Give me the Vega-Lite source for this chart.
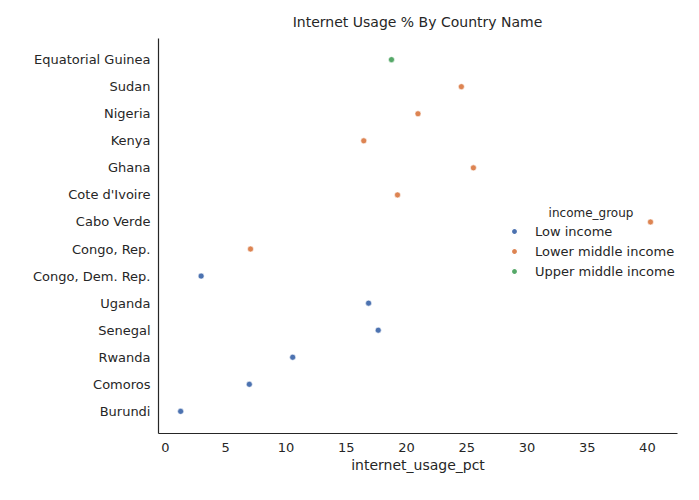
{
  "$schema": "https://vega.github.io/schema/vega-lite/v6.json",
  "autosize": "none",
  "padding": {"left": 158, "top": 38, "right": 22, "bottom": 67},
  "width": 519,
  "height": 395,
  "title": {"text": "Internet Usage % By Country Name", "fontSize": 14, "fontWeight": "normal", "font": "DejaVu Sans", "color": "#262626", "offset": 8},
  "data": {
    "values": [
      {"country_name": "Equatorial Guinea", "internet_usage_pct": 18.8, "income_group": "Upper middle income"},
      {"country_name": "Sudan", "internet_usage_pct": 24.6, "income_group": "Lower middle income"},
      {"country_name": "Nigeria", "internet_usage_pct": 21.0, "income_group": "Lower middle income"},
      {"country_name": "Kenya", "internet_usage_pct": 16.5, "income_group": "Lower middle income"},
      {"country_name": "Ghana", "internet_usage_pct": 25.6, "income_group": "Lower middle income"},
      {"country_name": "Cote d'Ivoire", "internet_usage_pct": 19.3, "income_group": "Lower middle income"},
      {"country_name": "Cabo Verde", "internet_usage_pct": 40.3, "income_group": "Lower middle income"},
      {"country_name": "Congo, Rep.", "internet_usage_pct": 7.1, "income_group": "Lower middle income"},
      {"country_name": "Congo, Dem. Rep.", "internet_usage_pct": 3.0, "income_group": "Low income"},
      {"country_name": "Uganda", "internet_usage_pct": 16.9, "income_group": "Low income"},
      {"country_name": "Senegal", "internet_usage_pct": 17.7, "income_group": "Low income"},
      {"country_name": "Rwanda", "internet_usage_pct": 10.6, "income_group": "Low income"},
      {"country_name": "Comoros", "internet_usage_pct": 7.0, "income_group": "Low income"},
      {"country_name": "Burundi", "internet_usage_pct": 1.3, "income_group": "Low income"}
    ]
  },
  "mark": {"type": "point", "filled": true, "size": 36, "opacity": 1, "stroke": "white", "strokeWidth": 0.6},
  "encoding": {
    "x": {
      "field": "internet_usage_pct", "type": "quantitative",
      "scale": {"domain": [-0.58, 42.5], "nice": false, "zero": false},
      "axis": {"values": [0, 5, 10, 15, 20, 25, 30, 35, 40], "grid": false, "tickSize": 0, "labelPadding": 8, "format": "d"}
    },
    "y": {
      "field": "country_name", "type": "nominal", "sort": null, "title": null,
      "scale": {"type": "point", "padding": 0.8},
      "axis": {"grid": false, "tickSize": 0, "labelPadding": 8}
    },
    "color": {
      "field": "income_group", "type": "nominal",
      "scale": {"domain": ["Low income", "Lower middle income", "Upper middle income"], "range": ["#4c72b0", "#dd8452", "#55a868"]},
      "legend": {"orient": "none", "legendX": 350, "legendY": 170, "symbolType": "circle", "symbolSize": 40, "labelFontSize": 13, "titleFontSize": 12, "titleFontWeight": "normal", "rowPadding": 6, "labelOffset": 14, "titleAnchor": "middle"}
    }
  },
  "config": {
    "view": {"stroke": null},
    "font": "DejaVu Sans",
    "axis": {"domainColor": "#262626", "domainWidth": 1.2, "labelColor": "#262626", "titleColor": "#262626", "labelFontSize": 13, "titleFontSize": 14, "titleFontWeight": "normal"},
    "legend": {"labelColor": "#262626", "titleColor": "#262626"}
  }
}
